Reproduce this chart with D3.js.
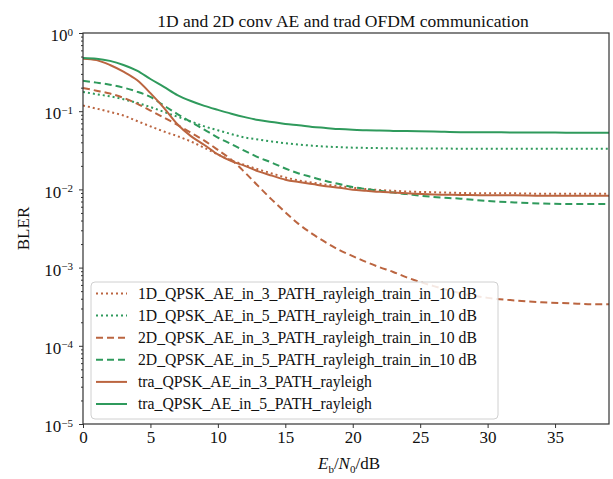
<!DOCTYPE html>
<html>
<head>
<meta charset="utf-8">
<script src="https://cdn.jsdelivr.net/npm/d3@7"></script>
<style>
  body { margin: 0; background: #fff; }
  svg { font-family: "Liberation Serif", "DejaVu Serif", serif; }
</style>
</head>
<body>
<div></div>
<script>
// Eb/N0 points (dB)
const ebn0 = [0,1,2,3,4,5,6,7,8,9,10,11,12,13,14,15,16,17,18,19,20,21,22,23,24,26,28,30,32,34,36,38,39]

// BLER per curve
const ae1d_3path = [0.118,0.108,0.098,0.088,0.075,0.064,0.055,0.048,0.041,0.034,0.028,0.0235,0.0205,0.018,0.016,0.0142,0.013,0.0122,0.0115,0.011,0.0105,0.0101,0.0098,0.0096,0.0094,0.0092,0.009,0.0089,0.0089,0.0088,0.0088,0.0088,0.0088]
const ae1d_5path = [0.176,0.165,0.155,0.142,0.128,0.113,0.098,0.085,0.074,0.064,0.057,0.051,0.046,0.0435,0.041,0.039,0.0375,0.0362,0.0353,0.0347,0.0342,0.0339,0.0337,0.0335,0.0334,0.0333,0.0332,0.0332,0.0331,0.0331,0.033,0.033,0.033]
const ae2d_3path = [0.198,0.183,0.168,0.148,0.125,0.102,0.083,0.067,0.053,0.042,0.032,0.024,0.0165,0.011,0.0074,0.0051,0.0036,0.0027,0.0021,0.00168,0.0014,0.00118,0.00101,0.00088,0.00075,0.00058,0.00047,0.00041,0.00038,0.00036,0.00035,0.00034,0.00034]
const ae2d_5path = [0.245,0.232,0.218,0.2,0.178,0.152,0.118,0.092,0.073,0.058,0.046,0.038,0.031,0.0257,0.022,0.0185,0.016,0.0143,0.0128,0.0117,0.0107,0.0101,0.0096,0.0091,0.0087,0.008,0.0076,0.0071,0.0068,0.0066,0.0065,0.0065,0.0065]
const tra_3path = [0.47,0.45,0.39,0.32,0.25,0.17,0.11,0.068,0.048,0.037,0.028,0.023,0.02,0.017,0.015,0.0133,0.0124,0.0117,0.011,0.0105,0.0099,0.0096,0.0093,0.0091,0.0089,0.0086,0.0085,0.0084,0.0084,0.0083,0.0083,0.0083,0.0083]
const tra_5path = [0.48,0.47,0.44,0.39,0.33,0.258,0.205,0.161,0.135,0.117,0.104,0.093,0.084,0.077,0.073,0.0686,0.066,0.063,0.061,0.059,0.0578,0.0571,0.0565,0.056,0.0557,0.0552,0.054,0.054,0.0535,0.0535,0.053,0.053,0.053]

const seriesNames = [
    "1D_QPSK_AE_in_3_PATH_rayleigh_train_in_10 dB",
    "1D_QPSK_AE_in_5_PATH_rayleigh_train_in_10 dB",
    "2D_QPSK_AE_in_3_PATH_rayleigh_train_in_10 dB",
    "2D_QPSK_AE_in_5_PATH_rayleigh_train_in_10 dB",
    "tra_QPSK_AE_in_3_PATH_rayleigh",
    "tra_QPSK_AE_in_5_PATH_rayleigh"
]
const seriesValues = [ae1d_3path, ae1d_5path, ae2d_3path, ae2d_5path, tra_3path, tra_5path]

const xTicks = [0, 5, 10, 15, 20, 25, 30, 35]
const yExponents = [0, -1, -2, -3, -4, -5]

const brown = "#bb6540"
const green = "#2f9a5c"
const styles = [
    {color: brown, dash: "2,3"},
    {color: green, dash: "2,3"},
    {color: brown, dash: "7,4"},
    {color: green, dash: "7,4"},
    {color: brown, dash: null},
    {color: green, dash: null}
]

const w = 613
const h = 479
const pLeft = 83, pRight = 609, pTop = 33, pBottom = 424

const svg = d3.select("div").append("svg")
    .attr("width", w)
    .attr("height", h)

const xScale = d3.scaleLinear()
    .domain([0, 39])
    .range([pLeft, pRight])

const yScale = d3.scaleLog()
    .domain([1e-5, 1])
    .range([pBottom, pTop])

svg.append("clipPath").attr("id", "plotclip")
    .append("rect")
    .attr("x", pLeft).attr("y", pTop)
    .attr("width", pRight - pLeft).attr("height", pBottom - pTop)

// curves
const line = d3.line()
    .x(d => xScale(d[0]))
    .y(d => yScale(d[1]))
    .curve(d3.curveMonotoneX)

const curves = svg.append("g").attr("clip-path", "url(#plotclip)")
seriesValues.forEach((vals, i) => {
    curves.append("path")
        .datum(ebn0.map((x, j) => [x, vals[j]]))
        .attr("d", line)
        .attr("fill", "none")
        .attr("stroke", styles[i].color)
        .attr("stroke-width", 2)
        .attr("stroke-dasharray", styles[i].dash)
})

// frame
svg.append("rect")
    .attr("x", pLeft).attr("y", pTop)
    .attr("width", pRight - pLeft).attr("height", pBottom - pTop)
    .attr("fill", "none")
    .attr("stroke", "#333")
    .attr("stroke-width", 1.2)

// x axis
const xAxis = d3.axisBottom(xScale)
    .tickValues(xTicks)
    .tickSize(4)
    .tickPadding(3)

const gx = svg.append("g")
    .attr("transform", `translate(0,${pBottom})`)
    .call(xAxis)
gx.select(".domain").remove()
gx.selectAll("line").attr("stroke", "#333")
gx.selectAll("text")
    .attr("font-family", "Liberation Serif")
    .attr("font-size", 17)
    .attr("fill", "#111")

// y axis, majors
const yAxis = d3.axisLeft(yScale)
    .tickValues(yExponents.map(e => Math.pow(10, e)))
    .tickSize(4)
    .tickPadding(6)
    .tickFormat("")

const gy = svg.append("g")
    .attr("transform", `translate(${pLeft},0)`)
    .call(yAxis)
gy.select(".domain").remove()
gy.selectAll("line").attr("stroke", "#333")
gy.selectAll(".tick text")
    .attr("font-family", "Liberation Serif")
    .attr("font-size", 17)
    .attr("fill", "#111")
    .attr("dy", "0.45em")
    .each(function(d) {
        const t = d3.select(this)
        const e = Math.round(Math.log10(d))
        t.text("10")
        t.append("tspan")
            .attr("dy", "-0.5em")
            .attr("font-size", 11)
            .text(e === 0 ? "0" : "\u2212" + Math.abs(e))
    })

// y axis, minors
const minors = []
for (let e = -5; e < 0; e++) {
    for (let m = 2; m <= 9; m++) minors.push(m * Math.pow(10, e))
}
const gyMinor = svg.append("g")
    .attr("transform", `translate(${pLeft},0)`)
    .call(d3.axisLeft(yScale).tickValues(minors).tickSize(2).tickFormat(""))
gyMinor.select(".domain").remove()
gyMinor.selectAll("line").attr("stroke", "#333")

// title and axis labels
svg.append("text")
    .attr("x", 343)
    .attr("y", 27)
    .attr("text-anchor", "middle")
    .attr("font-size", 17.5)
    .attr("fill", "#111")
    .text("1D and 2D conv AE and trad OFDM communication")

svg.append("text")
    .attr("transform", `translate(29,${(pTop + pBottom) / 2}) rotate(-90)`)
    .attr("text-anchor", "middle")
    .attr("font-size", 17)
    .attr("fill", "#111")
    .text("BLER")

const xl = svg.append("text")
    .attr("x", 349)
    .attr("y", 469)
    .attr("text-anchor", "middle")
    .attr("font-size", 17)
    .attr("fill", "#111")
xl.append("tspan").attr("font-style", "italic").text("E")
xl.append("tspan").attr("font-size", 11).attr("dy", 4).text("b")
xl.append("tspan").attr("dy", -4).text("/")
xl.append("tspan").attr("font-style", "italic").text("N")
xl.append("tspan").attr("font-size", 11).attr("dy", 4).text("0")
xl.append("tspan").attr("dy", -4).text("/dB")

// legend
const legend = svg.append("g")
legend.append("rect")
    .attr("x", 91).attr("y", 282)
    .attr("width", 407).attr("height", 137)
    .attr("rx", 4)
    .attr("fill", "#fff")
    .attr("fill-opacity", 0.85)
    .attr("stroke", "#d0d0d0")

seriesNames.forEach((name, i) => {
    const y = 293.5 + i * 22.1
    legend.append("line")
        .attr("x1", 96).attr("x2", 127)
        .attr("y1", y).attr("y2", y)
        .attr("stroke", styles[i].color)
        .attr("stroke-width", 2)
        .attr("stroke-dasharray", styles[i].dash)
    legend.append("text")
        .attr("x", 138)
        .attr("y", y)
        .attr("dy", "0.35em")
        .attr("font-size", 15.7)
        .attr("fill", "#111")
        .text(name)
})
</script>
</body>
</html>
